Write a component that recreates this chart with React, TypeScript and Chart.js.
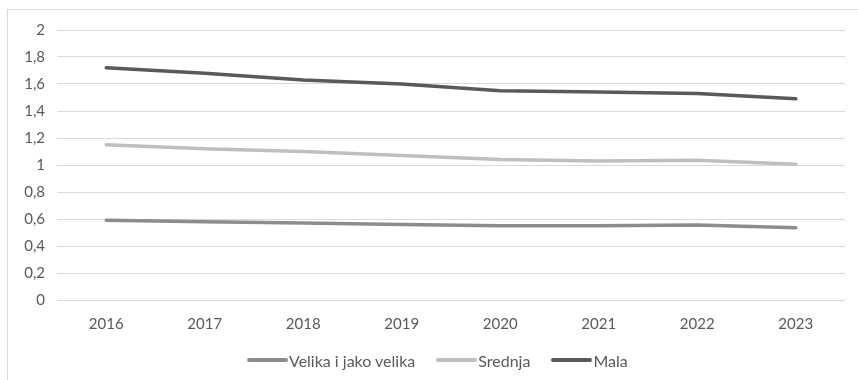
import React, { useEffect, useRef } from "react";
import { Chart, registerables } from "chart.js";

Chart.register(...registerables);

const categories = ["2016", "2017", "2018", "2019", "2020", "2021", "2022", "2023"];
const seriesNames = ["Velika i jako velika", "Srednja", "Mala"];
const velika = [0.59, 0.58, 0.57, 0.56, 0.55, 0.55, 0.555, 0.535];
const srednja = [1.15, 1.12, 1.1, 1.07, 1.04, 1.03, 1.035, 1.005];
const mala = [1.72, 1.68, 1.63, 1.6, 1.55, 1.54, 1.53, 1.49];
const yTicks = [0, 0.2, 0.4, 0.6, 0.8, 1, 1.2, 1.4, 1.6, 1.8, 2];
const colors = ["#8c8c8c", "#bfbfbf", "#595959"];

const FONT = "Lato, 'Open Sans', sans-serif";
const TXT = "#595959";

export default function App() {
  const ref = useRef<HTMLCanvasElement | null>(null);
  useEffect(() => {
    document.body.style.margin = "0";
    const ctx = ref.current!;
    const mk = (label: string, data: number[], color: string) => ({
      label,
      data,
      borderColor: color,
      backgroundColor: color,
      borderWidth: 3.5,
      pointRadius: 0,
      tension: 0,
      borderCapStyle: "round" as const,
      borderJoinStyle: "round" as const,
    });
    const chart = new Chart(ctx, {
      type: "line",
      data: {
        labels: categories,
        datasets: [
          mk(seriesNames[0], velika, colors[0]),
          mk(seriesNames[1], srednja, colors[1]),
          mk(seriesNames[2], mala, colors[2]),
        ],
      },
      options: {
        animation: false,
        responsive: false,
        maintainAspectRatio: false,
        layout: { padding: { left: 0, right: 13, top: 30, bottom: 32 } },
        plugins: {
          tooltip: { enabled: false },
          legend: { display: false },
        },
        scales: {
          x: {
            offset: true,
            grid: { display: false, drawTicks: false },
            border: { display: false },
            ticks: { color: TXT, padding: 15, font: { family: FONT, size: 15 } },
          },
          y: {
            min: 0,
            max: 2,
            afterFit: (s: any) => {
              s.width = 57;
            },
            afterBuildTicks: (s: any) => {
              s.ticks = yTicks.map((v) => ({ value: v }));
            },
            grid: { color: "#d9d9d9", drawTicks: false, lineWidth: 1 },
            border: { display: false },
            ticks: {
              color: TXT,
              padding: 12,
              font: { family: FONT, size: 15 },
              callback: (v: any) => String(v).replace(".", ","),
            },
          },
        },
      },
    });
    return () => chart.destroy();
  }, []);
  return (
    <div style={{ position: "relative", width: 858, height: 380, overflow: "hidden", background: "#fff" }}>
      <div
        style={{
          position: "absolute",
          left: 7,
          top: 9,
          width: 900,
          height: 420,
          border: "1px solid #d9d9d9",
          boxSizing: "border-box",
        }}
      />
      <canvas ref={ref} width={858} height={380} style={{ position: "absolute", left: 0, top: 0 }} />
      <div
        style={{
          position: "absolute",
          left: 247,
          top: 350,
          height: 20,
          display: "flex",
          alignItems: "center",
          gap: 21,
          fontFamily: FONT,
          fontSize: 16,
          color: TXT,
          whiteSpace: "nowrap",
        }}
      >
        {seriesNames.map((n, i) => (
          <div key={n} style={{ display: "flex", alignItems: "center" }}>
            <span
              style={{
                display: "inline-block",
                width: 41,
                height: 4,
                borderRadius: 2,
                background: colors[i],
                marginRight: 1,
              }}
            />
            <span>{n}</span>
          </div>
        ))}
      </div>
    </div>
  );
}
